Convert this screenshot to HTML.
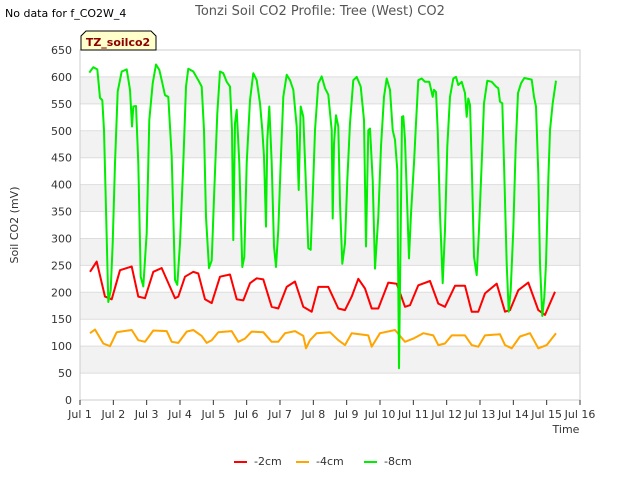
<!DOCTYPE html>
<html><head><meta charset="utf-8"><style>
body{margin:0;background:#fff;font-family:"Liberation Sans","DejaVu Sans",sans-serif}
svg text{font-family:"DejaVu Sans","Liberation Sans",sans-serif}
</style></head><body>
<svg id="c" width="640" height="480">
<text x="5" y="17" font-size="11" fill="#000">No data for f_CO2W_4</text>
<text x="320" y="15" font-size="13" fill="#555" text-anchor="middle">Tonzi Soil CO2 Profile: Tree (West) CO2</text>
<g id="grid"></g>
<g id="series"></g>
<g id="axes"></g>
<g>
<path d="M81,50 L81,36 L86,31 L151,31 L156,36 L156,50 Z" fill="#ffffcc" stroke="#000" stroke-width="1"/>
<text x="118" y="46" font-size="11" font-weight="bold" fill="#8b0000" text-anchor="middle">TZ_soilco2</text>
</g>
<text transform="translate(18,225) rotate(-90)" font-size="11" fill="#333" text-anchor="middle">Soil CO2 (mV)</text>
<text x="566" y="433" font-size="11" fill="#333" text-anchor="middle">Time</text>
<g>
<g><line x1="234" y1="462" x2="247" y2="462" stroke="#ff0000" stroke-width="2"/><text x="254" y="465" font-size="11" fill="#333">-2cm</text></g>
<g><line x1="296" y1="462" x2="309" y2="462" stroke="#ffa500" stroke-width="2"/><text x="316" y="465" font-size="11" fill="#333">-4cm</text></g>
<g><line x1="364" y1="462" x2="377" y2="462" stroke="#00ee00" stroke-width="2"/><text x="384" y="465" font-size="11" fill="#333">-8cm</text></g>
</g>
</svg>
<script>
const yTicks=[0,50,100,150,200,250,300,350,400,450,500,550,600,650];
const xTickLabels=["Jul 1","Jul 2","Jul 3","Jul 4","Jul 5","Jul 6","Jul 7","Jul 8","Jul 9","Jul 10","Jul 11","Jul 12","Jul 13","Jul 14","Jul 15","Jul 16"];
const greenDays=[0.28,0.4,0.52,0.6,0.67,0.72,0.77,0.85,0.92,0.98,1.05,1.13,1.25,1.4,1.5,1.56,1.6,1.68,1.75,1.82,1.9,2.0,2.08,2.18,2.28,2.38,2.45,2.55,2.65,2.75,2.85,2.92,3.0,3.1,3.18,3.25,3.4,3.55,3.65,3.72,3.78,3.87,3.95,4.03,4.12,4.2,4.3,4.4,4.5,4.56,4.6,4.65,4.7,4.78,4.87,4.93,5.0,5.1,5.2,5.3,5.4,5.47,5.52,5.58,5.62,5.68,5.75,5.82,5.88,5.95,6.02,6.1,6.2,6.3,6.4,6.5,6.56,6.62,6.7,6.78,6.85,6.92,7.0,7.05,7.15,7.25,7.35,7.45,7.55,7.58,7.62,7.68,7.75,7.8,7.87,7.95,8.02,8.1,8.2,8.3,8.42,8.52,8.58,8.65,8.7,8.78,8.85,8.95,9.03,9.12,9.2,9.3,9.38,9.45,9.52,9.57,9.62,9.66,9.7,9.75,9.8,9.87,9.93,10.02,10.08,10.15,10.25,10.35,10.48,10.58,10.62,10.68,10.73,10.8,10.88,10.95,11.02,11.1,11.2,11.28,11.35,11.45,11.55,11.6,11.65,11.7,11.75,11.82,11.9,11.97,12.05,12.12,12.22,12.35,12.48,12.55,12.6,12.67,12.72,12.8,12.86,12.92,13.0,13.07,13.14,13.23,13.33,13.55,13.62,13.68,13.75,13.8,13.87,13.93,13.98,14.05,14.1,14.18,14.28];
const greenVals=[608,618,614,561,557,501,377,182,204,291,440,573,610,614,576,508,545,546,440,229,211,310,520,588,623,613,594,566,563,452,223,214,291,440,582,615,610,594,582,501,340,245,259,390,532,610,607,591,582,501,297,514,539,440,247,266,440,557,607,594,551,501,452,322,483,545,440,285,247,316,440,563,604,594,576,508,390,545,526,396,282,279,408,501,588,601,579,567,501,337,476,529,508,365,253,291,408,514,594,600,582,520,285,501,504,408,244,340,471,563,597,576,501,483,427,59,316,526,527,483,390,263,346,440,514,594,597,591,591,563,576,572,501,346,217,316,471,563,597,600,585,591,570,526,560,548,440,266,232,316,440,551,593,591,582,579,554,551,440,253,164,204,316,471,570,588,598,595,563,545,421,253,156,191,253,408,501,551,593];
const redDays=[0.3,0.5,0.75,0.95,1.2,1.55,1.75,1.95,2.2,2.45,2.7,2.85,2.95,3.15,3.4,3.55,3.75,3.95,4.2,4.5,4.7,4.9,5.1,5.3,5.5,5.75,5.95,6.2,6.45,6.7,6.95,7.15,7.45,7.75,7.95,8.15,8.35,8.55,8.75,8.95,9.25,9.5,9.75,9.9,10.15,10.5,10.75,10.95,11.25,11.55,11.75,11.95,12.15,12.5,12.75,12.9,13.15,13.45,13.75,13.95,14.25];
const redVals=[238,257,192,187,241,248,192,189,238,245,210,189,192,229,238,235,187,180,229,233,187,185,217,226,224,173,170,210,220,173,164,210,210,170,167,192,225,207,170,170,218,216,173,176,213,221,179,173,212,212,164,164,198,216,164,167,204,218,167,158,201];
const orangeDays=[0.3,0.45,0.7,0.9,1.1,1.55,1.75,1.95,2.2,2.6,2.75,2.95,3.2,3.4,3.65,3.8,3.95,4.15,4.55,4.75,4.95,5.15,5.5,5.75,5.95,6.15,6.45,6.7,6.78,6.9,7.1,7.5,7.75,7.95,8.15,8.65,8.75,9.0,9.45,9.75,10.0,10.3,10.6,10.75,10.95,11.15,11.55,11.75,11.95,12.15,12.6,12.75,12.95,13.2,13.5,13.75,14.0,14.28];
const orangeVals=[124,131,105,100,126,130,111,108,129,128,108,106,127,130,119,106,111,126,128,108,114,127,126,108,108,124,128,119,96,111,124,126,111,102,124,120,99,124,130,108,114,124,120,102,105,120,120,102,99,120,122,102,96,118,124,96,102,124];

const NS="http://www.w3.org/2000/svg";
const L=80,R=580,T=50,B=400;
const xS=d=>L+(R-L)*d/15;
const yS=v=>B-(B-T)*v/650;
function mk(tag,attrs,parent){const e=document.createElementNS(NS,tag);for(const k in attrs)e.setAttribute(k,attrs[k]);parent.appendChild(e);return e;}
const grid=document.getElementById('grid'),axes=document.getElementById('axes'),ser=document.getElementById('series');
for(let i=0;i<yTicks.length-1;i++){
  if(i%2===1){const b=mk('rect',{x:L,y:yS(yTicks[i+1]),width:R-L,height:yS(yTicks[i])-yS(yTicks[i+1]),fill:'#f2f2f2'},grid);
  
  }
}
yTicks.forEach(v=>{
  const g=mk('line',{x1:L,x2:R,y1:yS(v),y2:yS(v),stroke:'#dddddd','stroke-width':1},grid);
  
  
  const t=mk('text',{x:L-8,y:yS(v)+4,'font-size':11,fill:'#333','text-anchor':'end'},axes);
  t.textContent=v;
  
  
});
mk('rect',{x:L,y:T,width:R-L,height:B-T,fill:'none',stroke:'#cccccc','stroke-width':1},axes);
xTickLabels.forEach((s,i)=>{
  const x=xS(i);
  mk('line',{x1:x,x2:x,y1:B,y2:B+5,stroke:'#333','stroke-width':1},axes);
  const t=mk('text',{x:x,y:B+18,'font-size':11,fill:'#333','text-anchor':'middle'},axes);
  t.textContent=s;
  
  
});
function line(days,vals,color,name){
  const d=days.map((dd,i)=>(i?'L':'M')+xS(dd).toFixed(1)+','+yS(vals[i]).toFixed(1)).join(' ');
  const p=mk('path',{d:d,fill:'none',stroke:color,'stroke-width':2,'stroke-linejoin':'round'},ser);
  
  
}
line(orangeDays,orangeVals,'#ffa500','series-4cm');
line(redDays,redVals,'#ff0000','series-2cm');
line(greenDays,greenVals,'#00ee00','series-8cm');
</script>
</body></html>
